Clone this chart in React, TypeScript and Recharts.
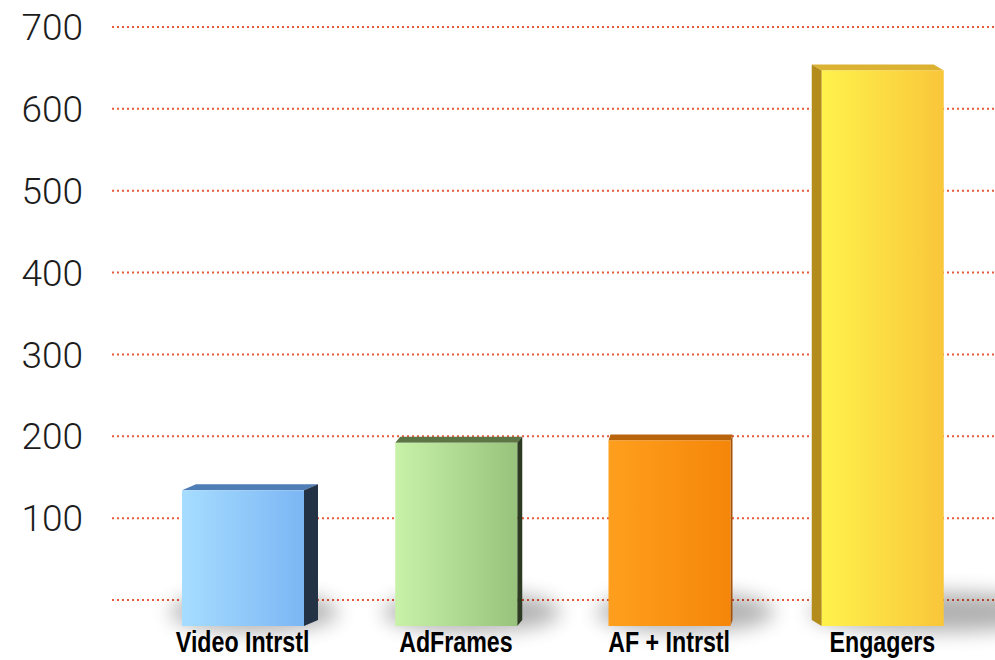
import React from "react";
import { BarChart, Bar, XAxis, YAxis, CartesianGrid } from "recharts";

const categories = ["Video Intrstl", "AdFrames", "AF + Intrstl", "Engagers"];
const values = [134, 192, 195, 647];
const yTicks = [0, 100, 200, 300, 400, 500, 600, 700];

// colours per bar: front gradient (left, right), top face, side face, side offset
const palette = [
  { left: "#a6ddff", right: "#7cb6f4", top: "#4f7db5", side: "#243246", dx: 14 },
  { left: "#c8f2a8", right: "#98c37c", top: "#5d7544", side: "#2c3a22", dx: 5 },
  { left: "#ff9f1e", right: "#f5860a", top: "#b8640c", side: "#a4520a", dx: 2 },
  { left: "#fff24c", right: "#f9c63a", top: "#dcb232", side: "#b48c1c", dx: -10 },
];

const data = categories.map((name, i) => ({ name, value: values[i] }));

const FLOOR = 26;
const TOP = 6;

function Bar3D(props: any) {
  const { x, y, width: w, height, index } = props;
  const c = palette[index];
  const bottom = y + height + FLOOR;
  const dx = c.dx;
  const ex = dx > 0 ? x + w : x;
  const id = `g${index}`;
  const shLen = height * 0.1;
  return (
    <g>
      <defs>
        <linearGradient id={id} x1="0" y1="0" x2="1" y2="0">
          <stop offset="0%" stopColor={c.left} />
          <stop offset="100%" stopColor={c.right} />
        </linearGradient>
        <filter id={`b${index}`} x="-50%" y="-50%" width="200%" height="200%">
          <feGaussianBlur stdDeviation="10" />
        </filter>
      </defs>
      <ellipse
        cx={x + w / 2 + shLen}
        cy={bottom - 14}
        rx={w / 2 + shLen + 12}
        ry={20}
        fill="#000"
        opacity={0.3}
        filter={`url(#b${index})`}
      />
      <polygon
        points={`${x},${y} ${x + dx},${y - TOP} ${x + w + dx},${y - TOP} ${x + w},${y}`}
        fill={c.top}
      />
      <polygon
        points={`${ex},${y} ${ex + dx},${y - TOP} ${ex + dx},${bottom - TOP} ${ex},${bottom}`}
        fill={c.side}
      />
      <rect x={x} y={y} width={w} height={bottom - y} fill={`url(#${id})`} />
    </g>
  );
}

function CategoryTick(props: any) {
  const { x, y, payload } = props;
  return (
    <g transform={`translate(${x},${y})`}>
      <text
        transform="scale(0.8,1)"
        y={52}
        textAnchor="middle"
        fill="#000"
        fontSize={29}
        fontWeight={700}
        fontFamily="Liberation Sans, Arial, sans-serif"
      >
        {payload.value}
      </text>
    </g>
  );
}

export default function App() {
  return (
    <div style={{ width: 995, height: 660, background: "#fff" }}>
      <style>{"body{margin:0}"}</style>
      <BarChart
        width={995}
        height={660}
        data={data}
        margin={{ top: 27, right: 0, left: 0, bottom: 30 }}
      >
        <CartesianGrid
          vertical={false}
          stroke="#e8583a"
          strokeWidth={2}
          strokeDasharray="2 3"
        />
        <XAxis
          dataKey="name"
          axisLine={false}
          tickLine={false}
          tickSize={0}
          tickMargin={0}
          height={30}
          padding={{ left: 24, right: 6 }}
          tick={<CategoryTick />}
        />
        <YAxis
          width={112}
          domain={[0, 700]}
          ticks={yTicks}
          axisLine={false}
          tickLine={false}
          tickSize={0}
          tickMargin={29}
          tickFormatter={(v: number) => (v === 0 ? "" : String(v))}
          tick={{ fill: "#1c1c1c", fontSize: 37, fontWeight: 300, fontFamily: "Roboto, Liberation Sans, sans-serif" }}
        />
        <Bar dataKey="value" barSize={122} shape={Bar3D} isAnimationActive={false} />
      </BarChart>
    </div>
  );
}
